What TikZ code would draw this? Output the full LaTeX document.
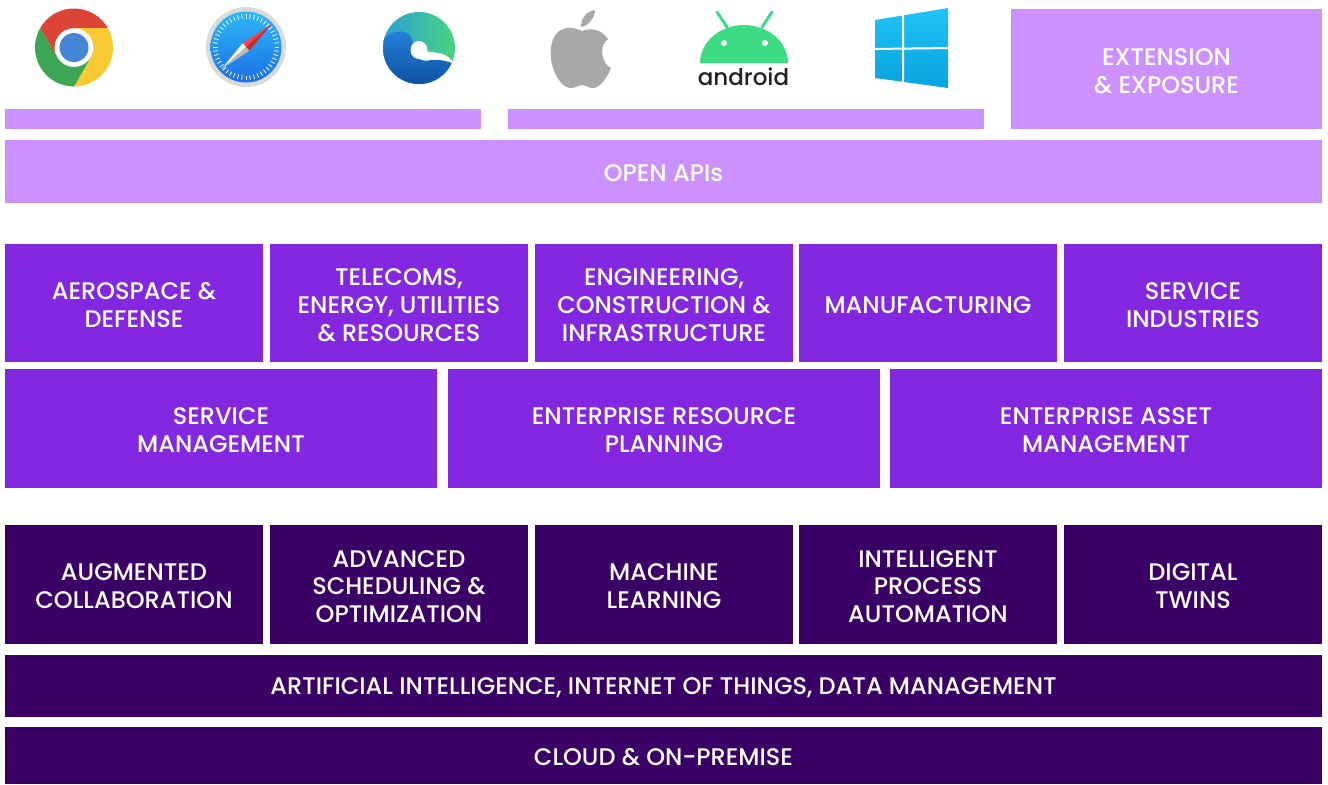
\documentclass[tikz,border=0pt]{standalone}
\usepackage{fontspec}
\setmainfont{Poppins}[UprightFont={* Medium}]
\usepackage{tikz}

\definecolor{lilac}{HTML}{CC91FF}
\definecolor{violet}{HTML}{8427E0}
\definecolor{aubergine}{HTML}{3B0066}
\definecolor{chromered}{HTML}{DB4437}
\definecolor{chromegreen}{HTML}{3DA554}
\definecolor{chromeyellow}{HTML}{F8C931}
\definecolor{chromeblue}{HTML}{4686D6}
\definecolor{safarilight}{HTML}{2DB8F7}
\definecolor{safaridark}{HTML}{1C6FE6}
\definecolor{ringgrey}{HTML}{DADADA}
\definecolor{needlered}{HTML}{F0474A}
\definecolor{needledark}{HTML}{C62B2E}
\definecolor{needlegrey}{HTML}{B9B9B9}
\definecolor{edgeteal}{HTML}{2D9FD8}
\definecolor{edgegreen}{HTML}{47D47C}
\definecolor{edgeblue}{HTML}{2383DA}
\definecolor{edgenavy}{HTML}{0D4E9E}
\definecolor{applegrey}{HTML}{A8A8A8}
\definecolor{droidgreen}{HTML}{3DDC84}
\definecolor{droidink}{HTML}{202124}
\definecolor{winlight}{HTML}{22C3F6}
\definecolor{windark}{HTML}{06A2E0}

\begin{document}
\begin{tikzpicture}[x=0.5pt, y=-0.5pt,
  tiletext/.style={text=white, align=center, inner sep=0pt, yshift=-1pt,
    font=\fontsize{12}{13.9}\selectfont}]

\useasboundingbox (0,0) rectangle (1328,784);

% browsers
\begin{scope}[shift={(74,47.5)}, yscale=-1]
  \foreach \ang/\col in {0/chromered, 120/chromeyellow, 240/chromegreen} {
    \begin{scope}[rotate=\ang]
      \fill[\col] (30:39) arc[start angle=30, end angle=150, radius=39]
        -- (210:19.5) arc[start angle=210, end angle=90, radius=19.5] -- cycle;
    \end{scope}
  }
  \fill[white] (0,0) circle[radius=18];
  \fill[chromeblue] (0,0) circle[radius=14.5];
\end{scope}

\begin{scope}[shift={(246,47)}, yscale=-1]
  \fill[ringgrey] (0,0) circle[radius=40];
  \shade[top color=safarilight, bottom color=safaridark] (0,0) circle[radius=35.5];
  \foreach \a in {0,7.5,...,352.5}
    \draw[white, line width=0.4pt] (\a:28.5) -- (\a:33);
  \begin{scope}[rotate=-42]
    \fill[needlered] (0,0) -- (34,0) -- (0,5) -- cycle;
    \fill[needledark] (0,0) -- (34,0) -- (0,-5) -- cycle;
    \fill[white] (0,0) -- (-33,0) -- (0,5) -- cycle;
    \fill[needlegrey] (0,0) -- (-33,0) -- (0,-5) -- cycle;
  \end{scope}
\end{scope}

\begin{scope}[shift={(419,48)}, yscale=-1]
  \shade[left color=edgeteal, right color=edgegreen] (0,0) circle[radius=36];
  \fill[white] (0,-2) -- (22,-5.5) .. controls (28,-7) and (31,-10) .. (34,-14)
    -- (30,-20) -- (0,-12) -- cycle;
  \shade[top color=edgeblue, bottom color=edgenavy] (-24.4:36)
    arc[start angle=-24.4, end angle=-197, radius=36]
    .. controls (-26,17) and (-16,19) .. (-9,13)
    .. controls (-7,10) and (-6,5) .. (-6,0)
    .. controls (-6,-12) and (6,-14) .. (12,-12)
    .. controls (20,-11) and (27,-13) .. (-24.4:36) -- cycle;
  \fill[white] (0,-2) ellipse[x radius=8.5, y radius=9];
\end{scope}

% platforms
\begin{scope}[shift={(582,58)}]
  \fill[applegrey] (0,-27) .. controls (-8,-31) and (-18,-32) .. (-25,-25)
    .. controls (-32,-18) and (-33,-2) .. (-29,10)
    .. controls (-25,22) and (-18,30) .. (-11,30)
    .. controls (-6,30) and (-4,27) .. (0,27)
    .. controls (4,27) and (6,30) .. (11,30)
    .. controls (18,30) and (25,20) .. (29,10)
    .. controls (20,6) and (16,-12) .. (26,-19)
    .. controls (20,-28) and (10,-31) .. (0,-27) -- cycle;
  \fill[applegrey] (-1,-31) .. controls (-1,-42) and (6,-47) .. (13,-48)
    .. controls (13,-40) and (6,-32) .. (-1,-31) -- cycle;
\end{scope}

\draw[droidgreen, line width=1.5pt, line cap=round] (717,12) -- (727,27) (772,12) -- (762,27);
\fill[droidgreen] (700,63) arc[start angle=180, end angle=360, x radius=44, y radius=38] -- cycle;
\fill[white] (724,43) circle[radius=3] (765,43) circle[radius=3];
\node[font=\fontsize{11.5}{12}\selectfont, text=droidink, anchor=base, inner sep=0pt] (droid) at (743.5,85) {android};

\shade[top color=winlight, bottom color=windark] (875,20) -- (948,8) -- (948,88) -- (875,78) -- cycle;
\draw[white, line width=1pt] (903,4) -- (903,92) (870,49) -- (952,48);

% api layer
\fill[lilac] (5,109) rectangle (481,129);
\fill[lilac] (508,109) rectangle (984,129);
\fill[lilac] (1011,9) rectangle (1322,129) node[midway, tiletext] (ext) {EXTENSION\\\& EXPOSURE};
\fill[lilac] (5,140) rectangle (1322,203) node[midway, tiletext] (api) {OPEN APIs};

% industries
\fill[violet] (5,244) rectangle (263,362) node[midway, tiletext] (aero) {AEROSPACE \&\\DEFENSE};
\fill[violet] (270,244) rectangle (528,362) node[midway, tiletext] (telco) {TELECOMS,\\ENERGY, UTILITIES\\\& RESOURCES};
\fill[violet] (535,244) rectangle (793,362) node[midway, tiletext] (eng) {ENGINEERING,\\CONSTRUCTION \&\\INFRASTRUCTURE};
\fill[violet] (799,244) rectangle (1057,362) node[midway, tiletext] (manu) {MANUFACTURING};
\fill[violet] (1064,244) rectangle (1322,362) node[midway, tiletext] (serv) {SERVICE\\INDUSTRIES};

\fill[violet] (5,369) rectangle (437,488) node[midway, tiletext] (sm) {SERVICE\\MANAGEMENT};
\fill[violet] (448,369) rectangle (880,488) node[midway, tiletext] (erp) {ENTERPRISE RESOURCE\\PLANNING};
\fill[violet] (890,369) rectangle (1322,488) node[midway, tiletext] (eam) {ENTERPRISE ASSET\\MANAGEMENT};

% technology
\fill[aubergine] (5,525) rectangle (263,644) node[midway, tiletext] (collab) {AUGMENTED\\COLLABORATION};
\fill[aubergine] (270,525) rectangle (528,644) node[midway, tiletext] (sched) {ADVANCED\\SCHEDULING \&\\OPTIMIZATION};
\fill[aubergine] (535,525) rectangle (793,644) node[midway, tiletext] (ml) {MACHINE\\LEARNING};
\fill[aubergine] (799,525) rectangle (1057,644) node[midway, tiletext] (ipa) {INTELLIGENT\\PROCESS\\AUTOMATION};
\fill[aubergine] (1064,525) rectangle (1322,644) node[midway, tiletext] (twin) {DIGITAL\\TWINS};

\fill[aubergine] (5,655) rectangle (1322,717) node[midway, tiletext] (ai) {ARTIFICIAL INTELLIGENCE, INTERNET OF THINGS, DATA MANAGEMENT};
\fill[aubergine] (5,727) rectangle (1322,784) node[midway, tiletext] (cloud) {CLOUD \& ON-PREMISE};

\end{tikzpicture}
\end{document}
